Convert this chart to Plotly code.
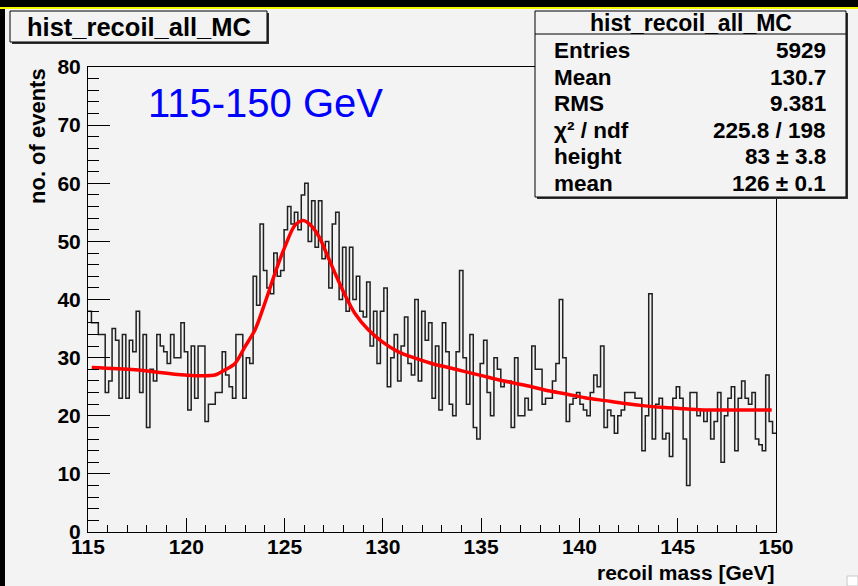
import plotly.graph_objects as go

# ---- data -------------------------------------------------------------
x_min, x_max = 115.0, 150.0
n_bins = 200

counts = [
    38, 36, 36, 34, 34, 24, 26, 35, 33, 23, 34, 23, 33, 31, 38, 24, 34, 18, 28, 26,
    34, 32, 31, 29, 34, 30, 30, 36, 31, 21, 32, 23, 32, 32, 19, 22, 22, 24, 24, 31,
    27, 25, 23, 34, 34, 23, 30, 29, 44, 39, 53, 45, 42, 41, 48, 44, 45, 52, 56, 53,
    55, 52, 58, 60, 50, 57, 49, 57, 47, 50, 42, 53, 55, 40, 49, 38, 49, 40, 44, 38,
    37, 43, 32, 38, 29, 38, 42, 25, 30, 34, 26, 32, 37, 29, 27, 40, 26, 38, 33, 36,
    23, 32, 21, 36, 31, 22, 20, 31, 45, 30, 22, 34, 18, 16, 29, 33, 24, 20, 30, 28,
    25, 26, 26, 18, 30, 20, 20, 23, 21, 32, 28, 28, 22, 23, 23, 26, 29, 40, 30, 19,
    22, 23, 24, 22, 21, 20, 24, 27, 25, 32, 18, 21, 20, 17, 20, 21, 24, 24, 24, 23,
    23, 14, 20, 41, 16, 22, 23, 16, 17, 13, 23, 25, 23, 16, 8, 24, 24, 20, 21, 19,
    21, 16, 19, 24, 12, 20, 23, 25, 14, 23, 26, 23, 22, 24, 16, 15, 14, 27, 19, 17,
]

# fitted curve, sampled along the mass axis
fit_x = [115.19, 117.39, 119.93, 121.46, 121.97, 122.48, 122.99, 123.50, 124.00,
         124.51, 125.02, 125.53, 125.95, 126.38, 126.80, 127.06, 127.57, 128.07,
         128.58, 129.26, 129.94, 130.79, 131.64, 132.48, 133.33, 134.18, 135.03,
         135.87, 136.72, 137.57, 138.42, 139.27, 140.28, 141.30, 142.32, 143.34,
         144.35, 145.37, 146.39, 147.41, 148.42, 149.78]
fit_y = [28.3, 27.9, 27.0, 27.0, 27.9, 29.0, 31.9, 34.8, 39.4,
         44.5, 49.1, 52.8, 53.6, 52.6, 50.5, 48.5, 44.5, 40.8,
         37.6, 34.8, 32.8, 31.0, 29.9, 29.0, 28.3, 27.6, 26.9,
         26.2, 25.6, 25.0, 24.3, 23.8, 23.1, 22.6, 22.1, 21.7,
         21.4, 21.2, 21.0, 21.0, 21.0, 21.0]

hist_name = "hist_recoil_all_MC"
stat_labels = ["Entries", "Mean", "RMS", "χ² / ndf", "height", "mean"]
stat_values = ["5929", "130.7", "9.381", "225.8 / 198", "83 ± 3.8", "126 ± 0.1"]
range_label = "115-150 GeV"
x_title = "recoil mass [GeV]"
y_title = "no. of events"

# ---- geometry ---------------------------------------------------------
W, H = 858, 586
ML, MR, MT, MB = 88, 82, 67, 54
PW, PH = W - ML - MR, H - MT - MB

def px(x):
    return (x - ML) / PW

def py(y):
    return (H - MB - y) / PH

FONT = "Liberation Sans, Arial, Helvetica, sans-serif"
BG = "#f3f3f3"

bin_w = (x_max - x_min) / n_bins
edges = [x_min + i * bin_w for i in range(n_bins + 1)]

fig = go.Figure()

# histogram outline as a step line over the bin edges
fig.add_trace(go.Scatter(
    x=edges, y=counts + [counts[-1]],
    mode="lines", line=dict(color="#202020", width=1.5, shape="hv"),
    hoverinfo="skip", showlegend=False,
))

# fit function
fig.add_trace(go.Scatter(
    x=fit_x, y=fit_y, mode="lines",
    line=dict(color="#ff0000", width=3.5, shape="spline", smoothing=0.8),
    hoverinfo="skip", showlegend=False,
))

shapes = []

def rect(x0, y0, x1, y1, **kw):
    shapes.append(dict(type="rect", xref="paper", yref="paper",
                       x0=px(x0), x1=px(x1), y0=py(y1), y1=py(y0), **kw))

# window frame: dark band on top with a yellow rule, dark strip on the left
rect(0, 0, W, 7, fillcolor="black", line=dict(width=0), layer="above")
rect(0, 7, W, 9, fillcolor="#f5f500", line=dict(width=0), layer="above")
rect(0, 9, 5, H, fillcolor="black", line=dict(width=0), layer="above")
rect(847, 576, W, H, fillcolor="white", line=dict(color="#c8c8c8", width=1), layer="above")

# title box with drop shadow
rect(12, 13, 269, 44, fillcolor="#303030", line=dict(width=0), layer="above")
rect(10, 11, 267, 42, fillcolor=BG, line=dict(color="black", width=1), layer="above")

# statistics box with drop shadow
rect(537, 13, 848, 199, fillcolor="#303030", line=dict(width=0), layer="above")
rect(535, 11, 846, 197, fillcolor=BG, line=dict(color="black", width=1), layer="above")
shapes.append(dict(type="line", xref="paper", yref="paper",
                   x0=px(535), x1=px(846), y0=py(34), y1=py(34),
                   line=dict(color="black", width=1), layer="above"))

annotations = []

def text(x, y, s, size, xanchor="center", color="black", bold=True, angle=0):
    annotations.append(dict(
        x=px(x), y=py(y), xref="paper", yref="paper", text=s, showarrow=False,
        xanchor=xanchor, yanchor="middle", textangle=angle,
        font=dict(family=FONT, size=size, color=color,
                  weight="bold" if bold else "normal"),
    ))

text(138.5, 27, hist_name, 25.5)
text(690.5, 23, hist_name, 23)
for k, (lab, val) in enumerate(zip(stat_labels, stat_values)):
    yy = 50.5 + 26.6 * k
    text(552, yy, lab, 22.5, xanchor="left")
    text(828, yy, val, 22.5, xanchor="right")

text(146, 103, range_label, 40, xanchor="left", color="#0000ff", bold=False)
text(776, 572, x_title, 21, xanchor="right")
text(37, 136, y_title, 22, angle=-90)

tickfont = dict(family=FONT, size=21, color="black", weight="bold")

fig.update_layout(
    width=W, height=H,
    margin=dict(l=ML, r=MR, t=MT, b=MB),
    paper_bgcolor=BG, plot_bgcolor=BG,
    shapes=shapes, annotations=annotations,
    xaxis=dict(
        range=[x_min, x_max], tick0=115, dtick=5,
        ticks="inside", ticklen=14, tickwidth=1, tickcolor="black",
        minor=dict(dtick=1, ticks="inside", ticklen=7, tickwidth=1, tickcolor="black"),
        showgrid=False, zeroline=False,
        showline=True, linecolor="black", linewidth=1, mirror=True,
        tickfont=tickfont, ticklabelstandoff=-4,
    ),
    yaxis=dict(
        range=[0, 80], tick0=0, dtick=10,
        ticks="inside", ticklen=22, tickwidth=1, tickcolor="black",
        minor=dict(dtick=2, ticks="inside", ticklen=11, tickwidth=1, tickcolor="black"),
        showgrid=False, zeroline=False,
        showline=True, linecolor="black", linewidth=1, mirror=True,
        tickfont=tickfont, ticklabelstandoff=2,
    ),
)

fig.write_html("out.html")
